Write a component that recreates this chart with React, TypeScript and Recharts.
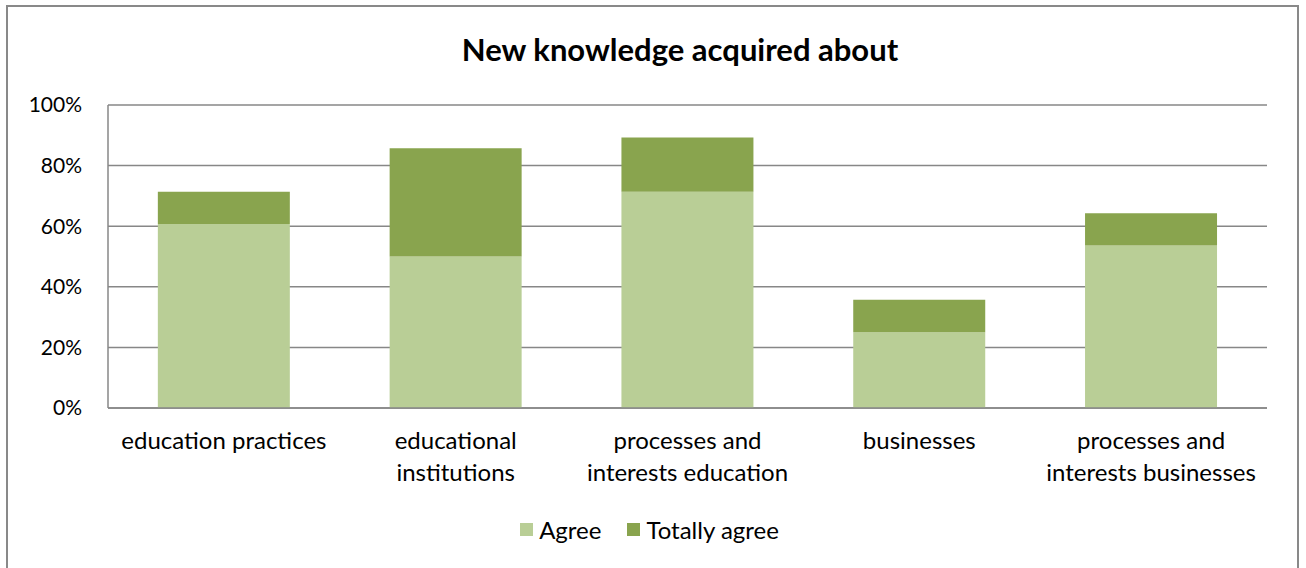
import { BarChart, Bar, CartesianGrid, XAxis, YAxis, Legend } from "recharts";

const categories = [
  "education practices",
  "educational\ninstitutions",
  "processes and\ninterests education",
  "businesses",
  "processes and\ninterests businesses",
];
const agree = [60.7, 50.0, 71.4, 25.0, 53.6];
const totallyAgree = [10.7, 35.7, 17.9, 10.7, 10.7];
const yTicks = [0, 20, 40, 60, 80, 100];

const data = categories.map((name, i) => ({
  name,
  agree: agree[i],
  totallyAgree: totallyAgree[i],
}));

const FONT = "Lato, 'Noto Sans', sans-serif";
const LIGHT = "#B9CE96";
const DARK = "#89A44E";
const GRID = "#878787";

function CategoryTick(props: any) {
  const { x, y, payload } = props;
  const lines = String(payload.value).split("\n");
  return (
    <text x={x} y={y + 39} textAnchor="middle" fill="#000" fontSize={24} fontFamily={FONT}>
      {lines.map((line, i) => (
        <tspan key={i} x={x} dy={i === 0 ? 0 : 32}>
          {line}
        </tspan>
      ))}
    </text>
  );
}

function LegendBox() {
  const items = [
    { label: "Agree", color: LIGHT },
    { label: "Totally agree", color: DARK },
  ];
  return (
    <div
      style={{
        display: "flex",
        justifyContent: "center",
        gap: 26,
        fontFamily: FONT,
        fontSize: 24,
        paddingLeft: 24,
        transform: "translateY(-3px)",
      }}
    >
      {items.map((it) => (
        <div key={it.label} style={{ display: "flex", alignItems: "center", gap: 6 }}>
          <span style={{ width: 13, height: 13, background: it.color, display: "inline-block" }} />
          <span>{it.label}</span>
        </div>
      ))}
    </div>
  );
}

export default function App() {
  return (
    <div style={{ position: "absolute", left: 0, top: 0, width: 1306, height: 568, overflow: "hidden", background: "#fff" }}>
      <div
        style={{
          position: "absolute",
          left: 6,
          top: 5,
          width: 1289,
          height: 600,
          border: "2px solid #898989",
        }}
      />
      <div
        style={{
          position: "absolute",
          left: 0,
          top: 30,
          width: 1360,
          textAlign: "center",
          fontFamily: FONT,
          fontWeight: 700,
          fontSize: 31,
        }}
      >
        New knowledge acquired about
      </div>
      <div style={{ position: "absolute", left: 0, top: 0 }}>
        <BarChart
          width={1306}
          height={568}
          data={data}
          margin={{ top: 105, right: 39, bottom: 14, left: 8 }}
          barCategoryGap="21.5%"
        >
          <CartesianGrid vertical={false} stroke={GRID} strokeWidth={1.5} />
          <XAxis
            dataKey="name"
            tick={<CategoryTick />}
            tickLine={false}
            tickSize={0}
            axisLine={{ stroke: GRID, strokeWidth: 1.5 }}
            height={110}
            interval={0}
          />
          <YAxis
            domain={[0, 100]}
            ticks={yTicks}
            tickFormatter={(v) => `${v}%`}
            tickLine={false}
            tickSize={0}
            tickMargin={26}
            axisLine={{ stroke: GRID, strokeWidth: 1.5 }}
            width={100}
            tick={{ fill: "#000", fontSize: 21, fontFamily: FONT }}
          />
          <Legend content={<LegendBox />} verticalAlign="bottom" height={36} />
          <Bar dataKey="agree" name="Agree" stackId="a" fill={LIGHT} isAnimationActive={false} />
          <Bar dataKey="totallyAgree" name="Totally agree" stackId="a" fill={DARK} isAnimationActive={false} />
        </BarChart>
      </div>
    </div>
  );
}
